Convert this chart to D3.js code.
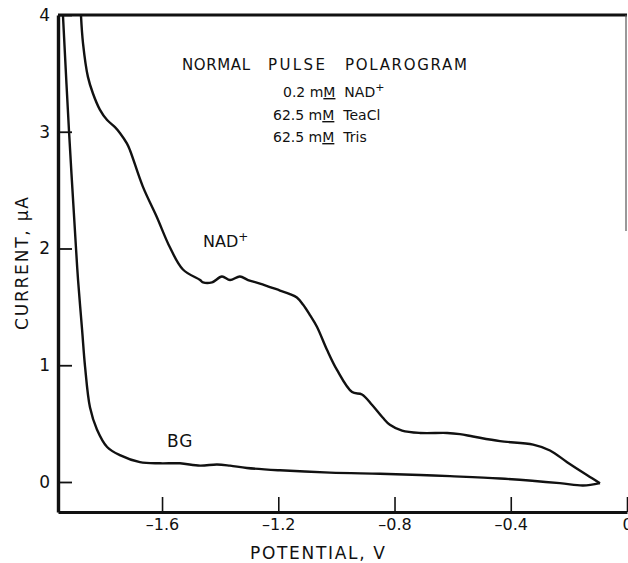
<!DOCTYPE html>
<html>
<head>
<meta charset="utf-8">
<script src="https://cdn.jsdelivr.net/npm/d3@7"></script>
<style>
  body { margin: 0; background: #fff; }
  text { font-family: "DejaVu Sans", "Liberation Sans", sans-serif; fill: #111; }
</style>
</head>
<body>
<div id="canvas"></div>
<script>
// data (potential in V, current in uA)
var nadPotential = [-1.879, -1.872, -1.855, -1.838, -1.814, -1.789, -1.762, -1.745, -1.721, -1.710,
  -1.666, -1.618, -1.573, -1.528, -1.469, -1.459, -1.428, -1.394, -1.366, -1.332, -1.304, -1.263,
  -1.194, -1.160, -1.136, -1.115, -1.091, -1.067, -1.032, -0.998, -0.946, -0.912, -0.877, -0.840,
  -0.816, -0.774, -0.712, -0.619, -0.575, -0.530, -0.437, -0.323, -0.265, -0.206, -0.138, -0.093];
var nadCurrent = [4.0, 3.76, 3.47, 3.33, 3.19, 3.10, 3.04, 2.99, 2.90, 2.84,
  2.53, 2.27, 2.01, 1.82, 1.73, 1.71, 1.71, 1.76, 1.73, 1.76, 1.73, 1.70,
  1.64, 1.61, 1.58, 1.52, 1.43, 1.33, 1.13, 0.96, 0.77, 0.75, 0.66, 0.55,
  0.49, 0.44, 0.42, 0.42, 0.41, 0.39, 0.35, 0.32, 0.27, 0.17, 0.06, -0.01];

var bgPotential = [-1.941, -1.920, -1.896, -1.889, -1.875, -1.865, -1.848, -1.824, -1.789, -1.745,
  -1.676, -1.607, -1.538, -1.469, -1.411, -1.366, -1.308, -1.194, -1.022, -0.850, -0.712, -0.609,
  -0.437, -0.231, -0.151, -0.093];
var bgCurrent = [4.0, 3.0, 2.0, 1.73, 1.30, 0.99, 0.64, 0.45, 0.30, 0.23,
  0.17, 0.16, 0.16, 0.14, 0.15, 0.14, 0.12, 0.10, 0.08, 0.07, 0.06, 0.05,
  0.03, -0.01, -0.03, -0.01];

var potentialTicks = [-1.6, -1.2, -0.8, -0.4, 0];
var currentTicks = [0, 1, 2, 3, 4];

var titleWords = ['NORMAL', 'PULSE', 'POLAROGRAM'];

var chart = {
  init: function() {
    chart.svg = d3.select('#canvas').append('svg')
      .attr('width', 628)
      .attr('height', 563);

    chart.x = d3.scaleLinear().domain([-1.958, 0]).range([58, 627]);
    chart.y = d3.scaleLinear().domain([-0.257, 4]).range([512, 15]);

    chart.axes();
    chart.curves();
    chart.labels();
  },

  axes: function() {
    var x = chart.x, y = chart.y;

    var xAxis = chart.svg.append('g')
      .attr('transform', 'translate(0,' + y(-0.257) + ')')
      .call(d3.axisBottom(x).tickValues(potentialTicks).tickSize(-15).tickSizeOuter(0).tickPadding(7)
        .tickFormat(function(d) { return d === 0 ? '0' : '\u2013' + Math.abs(d).toFixed(1); }));
    xAxis.select('.domain').attr('stroke', '#111').attr('stroke-width', 3.2);
    xAxis.selectAll('.tick line').attr('stroke', '#111').attr('stroke-width', 1.6);
    xAxis.selectAll('.tick text').attr('font-size', 16).attr('fill', '#111');

    var yAxis = chart.svg.append('g')
      .attr('transform', 'translate(' + x(-1.958) + ',0)')
      .call(d3.axisLeft(y).tickValues(currentTicks).tickSize(-14).tickSizeOuter(0).tickPadding(8)
        .tickFormat(d3.format('d')));
    yAxis.select('.domain').attr('stroke', '#111').attr('stroke-width', 3.4);
    yAxis.selectAll('.tick line').attr('stroke', '#111').attr('stroke-width', 1.8);
    yAxis.selectAll('.tick text').attr('font-size', 17).attr('fill', '#111');

    // top frame and the cut-off right frame
    chart.svg.append('line')
      .attr('x1', x(-1.958)).attr('x2', x(0))
      .attr('y1', y(4)).attr('y2', y(4))
      .attr('stroke', '#111').attr('stroke-width', 3);
    chart.svg.append('line')
      .attr('x1', x(0) - 1).attr('x2', x(0) - 1)
      .attr('y1', y(4)).attr('y2', y(2.15))
      .attr('stroke', '#555').attr('stroke-width', 1.2);
  },

  curves: function() {
    var x = chart.x, y = chart.y;
    var line = d3.line()
      .x(function(d) { return x(d[0]); })
      .y(function(d) { return y(d[1]); })
      .curve(d3.curveCatmullRom.alpha(0.5));

    var nad = d3.zip(nadPotential, nadCurrent);
    var bg = d3.zip(bgPotential, bgCurrent);

    chart.svg.selectAll('.curve').data([nad, bg])
      .enter().append('path')
      .attr('class', 'curve')
      .attr('d', line)
      .attr('fill', 'none')
      .attr('stroke', '#111')
      .attr('stroke-width', 2.4)
      .attr('stroke-linejoin', 'round');
  },

  labels: function() {
    var svg = chart.svg;

    var wordPos = [{ x: 182, len: 68 }, { x: 268, len: 57 }, { x: 345, len: 122 }];
    svg.selectAll('.title').data(titleWords)
      .enter().append('text')
      .attr('class', 'title')
      .attr('x', function(d, i) { return wordPos[i].x; })
      .attr('y', 70)
      .attr('font-size', 15)
      .attr('textLength', function(d, i) { return wordPos[i].len; })
      .attr('lengthAdjust', 'spacing')
      .text(function(d) { return d; });

    var rows = [
      { x: 283, y: 97, pre: '0.2 m', post: '  NAD', sup: '+' },
      { x: 273, y: 120, pre: '62.5 m', post: '  TeaCl', sup: '' },
      { x: 273, y: 142, pre: '62.5 m', post: '  Tris', sup: '' }
    ];
    rows.forEach(function(r) {
      var t = svg.append('text').attr('x', r.x).attr('y', r.y).attr('font-size', 14)
        .style('white-space', 'pre');
      t.append('tspan').text(r.pre);
      t.append('tspan').style('text-decoration', 'underline').text('M');
      t.append('tspan').text(r.post);
      if (r.sup) {
        t.append('tspan').attr('dy', -6).attr('font-size', 11).text(r.sup);
      }
    });

    var nadLabel = svg.append('text').attr('x', 203).attr('y', 247).attr('font-size', 16);
    nadLabel.append('tspan').text('NAD');
    nadLabel.append('tspan').attr('dy', -6).attr('font-size', 12).text('+');

    svg.append('text').attr('x', 167).attr('y', 447).attr('font-size', 17)
      .attr('letter-spacing', 1).text('BG');

    svg.append('text')
      .attr('x', 250).attr('y', 559)
      .attr('font-size', 17)
      .attr('textLength', 135).attr('lengthAdjust', 'spacing')
      .text('POTENTIAL, V');

    svg.append('text')
      .attr('transform', 'translate(28,330) rotate(-90)')
      .attr('font-size', 17)
      .attr('textLength', 133).attr('lengthAdjust', 'spacing')
      .text('CURRENT, \u03bcA');
  }
};

chart.init();
</script>
</body>
</html>
